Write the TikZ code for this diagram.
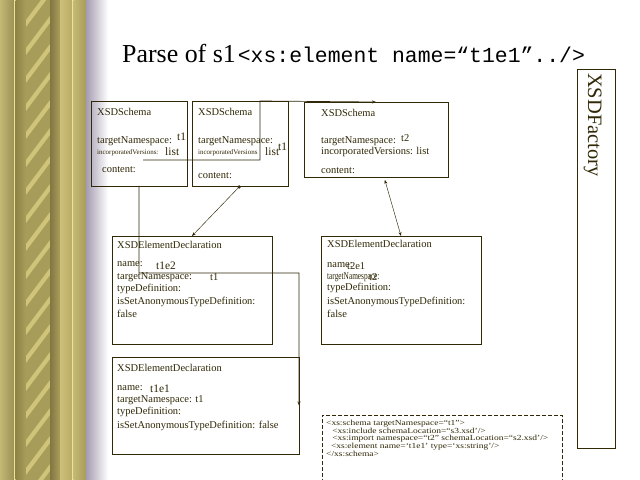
\documentclass[tikz,border=0pt]{standalone}
\usepackage{fontspec}
\setmainfont{Liberation Serif}
\setmonofont{Liberation Mono}
\usepackage{graphicx}
\usetikzlibrary{arrows.meta}
\definecolor{ink}{RGB}{48,40,6}
\definecolor{colA}{RGB}{196,184,116}
\definecolor{colB}{RGB}{156,144,84}
\definecolor{colC}{RGB}{142,130,70}
\definecolor{colD}{RGB}{170,158,92}
\definecolor{colE}{RGB}{168,156,90}
\definecolor{colHi}{RGB}{208,196,122}
\definecolor{colLine}{RGB}{238,226,150}
\definecolor{colF}{RGB}{130,118,66}
\definecolor{colG}{RGB}{204,192,122}
\definecolor{colH}{RGB}{184,172,104}
\definecolor{colGray}{RGB}{164,156,176}
\begin{document}
\begin{tikzpicture}
  [x=1bp,y=-1bp,
   box/.style={draw=ink,line width=0.8bp,inner sep=0,outer sep=0},
   lbl/.style={anchor=west,inner sep=0,text=ink,font=\fontsize{10.5}{12}\selectfont},
   lblbig/.style={lbl,font=\fontsize{11.5}{12}\selectfont},
   lbltiny/.style={lbl,font=\fontsize{7}{7}\selectfont},
   wire/.style={draw=ink,line width=0.7bp},
   thinwire/.style={draw=ink,line width=0.45bp}]

  \useasboundingbox (0,0) rectangle (640,480);
  \fill[white] (0,0) rectangle (640,480);

  % column on the left
  \shade[left color=colA,right color=colB] (0,0) rectangle (14,480);
  \fill[colLine] (14,0) rectangle (15.5,480);
  \shade[left color=colC,right color=colD] (15.5,0) rectangle (26,480);
  \fill[colE] (26,0) rectangle (50,480);
  \begin{scope}
    \clip (26,0) rectangle (50,480);
    \foreach \y in {-40,-12,...,480}
      \fill[colHi] (26,\y+32) -- (50,\y) -- (50,\y+7) -- (26,\y+39) -- cycle;
  \end{scope}
  \shade[left color=colF,right color=colD] (50,0) rectangle (60,480);
  \shade[left color=colG,right color=colH] (60,0) rectangle (72,480);
  \fill[colLine] (72,0) rectangle (73.5,480);
  \shade[left color=colA,right color=colE] (73.5,0) rectangle (86,480);
  \shade[left color=colGray,right color=white] (86,0) rectangle (108,480);

  % title
  \node[anchor=base west,inner sep=0] (title) at (122,63)
    {\fontsize{26}{30}\selectfont Parse of s1\hspace{2bp}{\ttfamily\fontsize{21.5}{26}\selectfont <xs:element name=“t1e1”../>}};

  % schemas
  \node[box,minimum width=96bp,minimum height=85bp] (schemaA) at (139,143.5) {};
  \node[box,minimum width=96bp,minimum height=85bp] (schemaB) at (240,143.5) {};
  \node[box,minimum width=144bp,minimum height=75bp] (schemaC) at (376,139.5) {};

  \node[lbl] (hdA) at (97,112) {XSDSchema};
  \node[lbl] (tnsA) at (97,141) {targetNamespace:};
  \node[lblbig] (tnA) at (177,137) {t1};
  \node[lbltiny] (ivA) at (97,153) {incorporatedVersions:};
  \node[lblbig] (lsA) at (165,152) {list};
  \node[lbl] (ctA) at (102,170) {content:};

  \node[lbl] (hdB) at (198,112) {XSDSchema};
  \node[lbl] (tnsB) at (198,141) {targetNamespace:};
  \node[lbltiny] (ivB) at (198,153) {incorporatedVersions};
  \node[lblbig] (lsB) at (265,152) {list};
  \node[lblbig] (tnB) at (278,147) {t1};
  \node[lbl] (ctB) at (198,176) {content:};

  \node[lbl] (hdC) at (321,113) {XSDSchema};
  \node[lbl] (tnsC) at (321,141) {targetNamespace:};
  \node[lbl] (tnC) at (401,138) {t2};
  \node[lbl] (ivC) at (321,152) {incorporatedVersions: list};
  \node[lbl] (ctC) at (321,171) {content:};

  % element declarations
  \node[box,minimum width=160bp,minimum height=108bp] (elemD) at (192,290) {};
  \node[box,minimum width=160bp,minimum height=108bp] (elemF) at (401,290) {};
  \node[box,minimum width=187bp,minimum height=97bp] (elemE) at (205.5,405.5) {};

  \node[lbl] (hdD) at (117,245) {XSDElementDeclaration};
  \node[lbl] (nmD) at (117,264) {name:};
  \node[lblbig] (nvD) at (156,266) {t1e2};
  \node[lbl] (tnsD) at (117,277) {targetNamespace:};
  \node[lbl] (tnD) at (210,277) {t1};
  \node[lbl] (tdD) at (117,289) {typeDefinition:};
  \node[lbl] (anD) at (117,302) {isSetAnonymousTypeDefinition:};
  \node[lbl] (fsD) at (117,314) {false};

  \node[lbl] (hdF) at (327,244) {XSDElementDeclaration};
  \node[lbl] (nmF) at (327,265) {name:};
  \node[lbl] (nvF) at (347,266) {t2e1};
  \node[lbl] (tnsF) at (327,277) {\scalebox{0.7}[1]{targetNamespace:}};
  \node[lbl] (tnF) at (369,277) {t2};
  \node[lbl] (tdF) at (327,288) {typeDefinition:};
  \node[lbl] (anF) at (327,302) {isSetAnonymousTypeDefinition:};
  \node[lbl] (fsF) at (327,314) {false};

  \node[lbl] (hdE) at (117,368) {XSDElementDeclaration};
  \node[lbl] (nmE) at (117,388) {name:};
  \node[lblbig] (nvE) at (150,389) {t1e1};
  \node[lbl] (tnsE) at (117,400) {targetNamespace: t1};
  \node[lbl] (tdE) at (117,412) {typeDefinition:};
  \node[lbl] (anE) at (117,426) {isSetAnonymousTypeDefinition: false};

  % factory
  \node[box,minimum width=38bp,minimum height=379bp] (factory) at (596,258.5) {};
  \node[anchor=base west,inner sep=0,rotate=-90,text=ink,font=\fontsize{20.5}{22}\selectfont]
    (factlbl) at (588,73) {XSDFactory};

  % source text
  \node[draw=ink,dash pattern=on 4bp off 2bp,line width=0.6bp,inner sep=0,
    minimum width=240bp,minimum height=80bp,anchor=north west] (srcbox) at (322,415) {};
  \node[anchor=north west,inner sep=0,text=ink,font=\fontsize{7.8}{7.5}\selectfont]
    (src) at (326,420) {\scalebox{1.22}[1]{\begin{tabular}{@{}l@{}}
    <xs:schema targetNamespace=“t1”>\\
    \hspace*{5bp}<xs:include schemaLocation=“s3.xsd’/>\\
    \hspace*{5bp}<xs:import namespace=“t2” schemaLocation=“s2.xsd’/>\\
    \hspace*{4bp}<xs:element name=‘t1e1’ type=‘xs:string’/>\\
    </xs:schema>\end{tabular}}};

  % links
  \coordinate (ivStart) at (143,160);
  \coordinate (ivBend) at (260,101);
  \coordinate (ctBend) at (299,273);
  \draw[wire,-{Stealth[length=4bp,width=3bp]}] (ivStart) -| (ivBend) -- (schemaC.north);
  \draw[wire,-{Stealth[length=4bp,width=3bp]}] (schemaA.south) |- (ctBend) -- (elemE.east);
  \draw[thinwire,{Square[length=2.5bp]}-{Stealth[length=4bp,width=3bp]}] (schemaB.south) -- (elemD.north);
  \draw[thinwire,{Stealth[length=4bp,width=3bp]}-{Stealth[length=4bp,width=3bp]},shorten <=3bp]
    ([xshift=8bp]schemaC.south) -- (elemF.north);

\end{tikzpicture}
\end{document}
